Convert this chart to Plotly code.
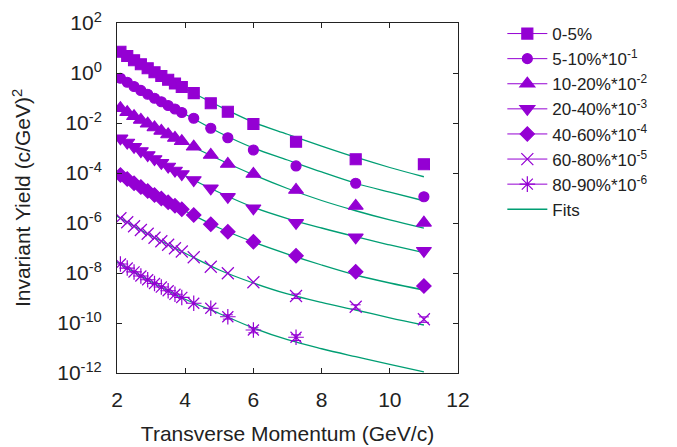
import plotly.graph_objects as go

# transverse momentum bin centres (GeV/c)
pt = [2.1, 2.3, 2.5, 2.7, 2.9, 3.1, 3.3, 3.5, 3.7, 3.9,
      4.25, 4.75, 5.25, 6.0, 7.25, 9.0, 11.0]

# invariant yields per centrality class (already scaled as labelled)
y_0_5 = [7.08, 4.79, 3.24, 2.24, 1.55, 1.07, 0.759, 0.537, 0.380, 0.275,
         0.158, 6.17e-2, 2.82e-2, 9.12e-3, 1.78e-3, 3.55e-4, 2.24e-4]
y_5_10 = [0.617, 0.427, 0.288, 0.200, 0.141, 9.77e-2, 7.08e-2, 5.01e-2, 3.63e-2, 2.63e-2,
          1.55e-2, 6.17e-3, 2.57e-3, 8.32e-4, 1.91e-4, 3.89e-5, 1.12e-5]
y_10_20 = [3.89e-2, 2.69e-2, 1.86e-2, 1.32e-2, 9.33e-3, 6.61e-3, 4.79e-3, 3.47e-3, 2.51e-3, 1.86e-3,
           1.12e-3, 5.25e-4, 2.29e-4, 9.12e-5, 2.09e-5, 4.79e-6, 1.02e-6]
y_20_40 = [2.45e-3, 1.66e-3, 1.12e-3, 7.59e-4, 5.25e-4, 3.63e-4, 2.57e-4, 1.82e-4, 1.26e-4, 9.12e-5,
           5.25e-5, 2.45e-5, 1.12e-5, 3.89e-6, 1.02e-6, 2.69e-7, 7.76e-8]
y_40_60 = [8.32e-5, 5.75e-5, 3.89e-5, 2.75e-5, 1.91e-5, 1.32e-5, 9.55e-6, 6.76e-6, 4.90e-6, 3.55e-6,
           2.09e-6, 8.91e-7, 4.47e-7, 1.78e-7, 4.90e-8, 1.12e-8, 3.02e-9]
y_60_80 = [1.55e-6, 1.07e-6, 7.41e-7, 5.25e-7, 3.72e-7, 2.57e-7, 1.86e-7, 1.35e-7, 9.77e-8, 7.24e-8,
           4.27e-8, 1.78e-8, 9.77e-9, 4.27e-9, 1.20e-9, 4.47e-10, 1.41e-10]
y_80_90 = [2.29e-8, 1.58e-8, 1.10e-8, 7.59e-9, 5.37e-9, 3.80e-9, 2.75e-9, 1.95e-9, 1.41e-9, 1.05e-9,
           6.17e-10, 3.89e-10, 1.78e-10, 5.25e-11, 2.69e-11]

# statistical errors where they exceed the symbol size (None = hidden by symbol)
err_60_80 = [None] * 14 + [0.25e-9, 0.9e-10, 0.35e-10]
err_80_90 = [None] * 12 + [0.35e-10, 1.2e-11, 0.7e-11]

# fit curves evaluated on a pT grid
fit_pt = [2, 3, 4, 5, 6, 7, 8, 9, 10, 11]
fit_0_5 = [8.51, 1.29, 0.234, 4.68e-2, 1.07e-2, 3.55e-3, 1.20e-3, 4.27e-4, 1.66e-4, 7.08e-5]
fit_5_10 = [0.759, 0.117, 2.24e-2, 4.17e-3, 1.00e-3, 3.31e-4, 1.10e-4, 3.89e-5, 1.70e-5, 7.76e-6]
fit_10_20 = [4.68e-2, 7.94e-3, 1.58e-3, 3.47e-4, 8.51e-5, 2.40e-5, 7.94e-6, 3.09e-6, 1.32e-6, 6.17e-7]
fit_20_40 = [2.95e-3, 4.37e-4, 7.76e-5, 1.66e-5, 4.27e-6, 1.51e-6, 6.31e-7, 2.82e-7, 1.32e-7, 6.46e-8]
fit_40_60 = [1.00e-4, 1.58e-5, 3.02e-6, 6.31e-7, 1.74e-7, 5.75e-8, 2.09e-8, 8.32e-9, 3.98e-9, 2.09e-9]
fit_60_80 = [1.86e-6, 3.09e-7, 6.17e-8, 1.32e-8, 3.98e-9, 1.45e-9, 6.61e-10, 3.31e-10, 1.62e-10, 8.32e-11]
fit_80_90 = [2.75e-8, 4.47e-9, 8.91e-10, 2.40e-10, 6.31e-11, 2.14e-11, 9.33e-12, 4.47e-12, 2.19e-12, 1.12e-12]

labels = ["0-5%", "5-10%*10<sup>-1</sup>", "10-20%*10<sup>-2</sup>", "20-40%*10<sup>-3</sup>",
          "40-60%*10<sup>-4</sup>", "60-80%*10<sup>-5</sup>", "80-90%*10<sup>-6</sup>"]

y_ticks = [1e-12, 1e-10, 1e-8, 1e-6, 1e-4, 1e-2, 1e0, 1e2]
y_ticktext = ["10<sup>-12</sup>", "10<sup>-10</sup>", "10<sup>-8</sup>", "10<sup>-6</sup>",
              "10<sup>-4</sup>", "10<sup>-2</sup>", "10<sup>0</sup>", "10<sup>2</sup>"]
x_ticks = [2, 4, 6, 8, 10, 12]

PURPLE = "#9400d3"
GREEN = "#009e73"
INK = "#222"
FONT = "Liberation Sans, Arial, sans-serif"

series = [
    (y_0_5, None, "square", 11),
    (y_5_10, None, "circle", 10),
    (y_10_20, None, "triangle-up", 13),
    (y_20_40, None, "triangle-down", 13),
    (y_40_60, None, "diamond", 11),
    (y_60_80, err_60_80, "x-thin-open", 12),
    (y_80_90, err_80_90, "asterisk-open", 13),
]
fits = [fit_0_5, fit_5_10, fit_10_20, fit_20_40, fit_40_60, fit_60_80, fit_80_90]

fig = go.Figure()

# fit curves underneath the data
for f in fits:
    fig.add_trace(go.Scatter(
        x=fit_pt, y=f, mode="lines", name="Fits",
        line=dict(color=GREEN, width=1.3, shape="spline"),
        legendgroup="fits", showlegend=False,
    ))

for i, (ys, errs, sym, size) in enumerate(series):
    marker = dict(symbol=sym, size=size, color=PURPLE, line=dict(color=PURPLE, width=1.2))
    fig.add_trace(go.Scatter(
        x=pt[:len(ys)], y=ys, mode="markers", name=labels[i],
        marker=marker, legendgroup=f"s{i}", showlegend=False,
    ))
    if errs is not None:
        idx = [k for k, e in enumerate(errs) if e is not None]
        fig.add_trace(go.Scatter(
            x=[pt[k] for k in idx], y=[ys[k] for k in idx], mode="markers",
            marker=dict(size=1, color=PURPLE, opacity=0),
            error_y=dict(type="data", array=[errs[k] for k in idx],
                         color=PURPLE, thickness=1, width=5),
            legendgroup=f"s{i}", showlegend=False, hoverinfo="skip",
        ))
    # legend sample: symbol on a short horizontal bar
    fig.add_trace(go.Scatter(
        x=[None], y=[None], mode="lines+markers", name=labels[i],
        marker=marker, line=dict(color=PURPLE, width=1),
        legendgroup=f"s{i}", legendrank=i + 1,
    ))

# legend entry for the fit curves
fig.add_trace(go.Scatter(
    x=[None], y=[None], mode="lines", name="Fits",
    line=dict(color=GREEN, width=1.3), legendgroup="fits", legendrank=50,
))

axis_common = dict(
    showgrid=False, zeroline=False, showline=True, linecolor=INK, linewidth=1,
    mirror="ticks", ticks="inside", ticklen=5, tickcolor=INK, automargin=False,
    tickfont=dict(family=FONT, size=21, color=INK),
)

fig.update_layout(
    width=677, height=447, autosize=False,
    margin=dict(l=117, r=219, t=23, b=74),
    paper_bgcolor="white", plot_bgcolor="white",
    font=dict(family=FONT, size=21, color=INK),
    xaxis=dict(range=[2, 12], tickvals=x_ticks, ticklabelstandoff=8,
               title=dict(text="Transverse Momentum (GeV/c)", standoff=16,
                          font=dict(family=FONT, size=21, color=INK)),
               **axis_common),
    yaxis=dict(type="log", range=[-12, 2], tickvals=y_ticks, ticktext=y_ticktext,
               ticklabelstandoff=10,
               title=dict(text="Invariant Yield (c/GeV)<sup>2</sup>", standoff=20,
                          font=dict(family=FONT, size=21, color=INK)),
               **axis_common),
    legend=dict(x=1.13, y=1.02, xanchor="left", yanchor="top",
                font=dict(family=FONT, size=17, color=INK),
                bgcolor="rgba(0,0,0,0)", borderwidth=0, itemwidth=40,
                traceorder="normal", tracegroupgap=0),
    showlegend=True,
)

fig.write_html("out.html")
